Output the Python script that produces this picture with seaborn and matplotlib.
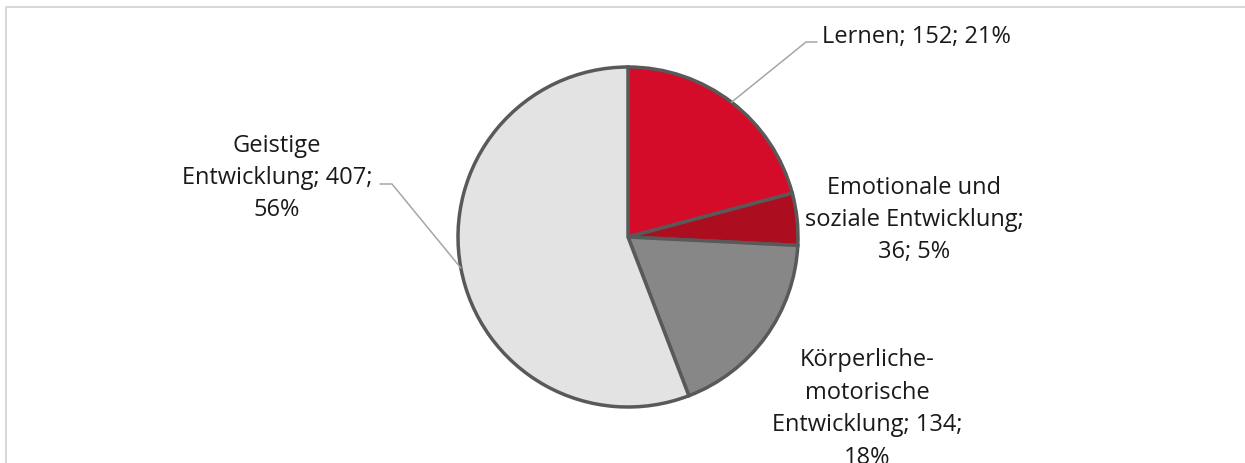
import numpy as np
import matplotlib
matplotlib.use("Agg")
import matplotlib.pyplot as plt
import seaborn as sns

categories = ["Lernen", "Emotionale und soziale Entwicklung",
              "Körperliche-motorische Entwicklung", "Geistige Entwicklung"]
values = [152, 36, 134, 407]
percents = [21, 5, 18, 56]
label_texts = ["Lernen; 152; 21%",
               "Emotionale und\nsoziale Entwicklung;\n36; 5%",
               "Körperliche-\nmotorische\nEntwicklung; 134;\n18%",
               "Geistige\nEntwicklung; 407;\n56%"]
colors = ["#D40C29", "#AC0E20", "#878787", "#E3E3E3"]

sns.set_theme(style="white")
plt.rcParams['font.family'] = ['Open Sans', 'DejaVu Sans']

W, H = 1245, 464
fig = plt.figure(figsize=(W / 100, H / 100), dpi=100)
ax = fig.add_axes([0, 0, 1, 1])
ax.set_xlim(0, W)
ax.set_ylim(0, H)
ax.set_aspect('equal')
ax.axis('off')

# outer frame
ax.plot([6, 6, 1260], [-20, H - 8, H - 8], color="#D9D9D9", lw=1.5, solid_capstyle='butt')

cx, cy, r = 628, H - 238, 170
wedges, _ = ax.pie(values, colors=colors, startangle=90, counterclock=False,
                   center=(cx, cy), radius=r, frame=True,
                   wedgeprops=dict(edgecolor="#595959", linewidth=2.5))
ax.set_xlim(0, W)
ax.set_ylim(0, H)
ax.axis('off')

fs = 17
ls = 1.47
# label positions (pixel coords, y from top)
label_pos = [(822, 37, 'left'), (914, 220, 'center'), (867, 409, 'center'), (277, 178, 'center')]
elbows = [((806, 43), (817, 43)), None, None, ((392, 185), (380, 185))]

total = sum(values)
start = 90.0
for i, v in enumerate(values):
    span = v / total * 360
    mid = np.deg2rad(start - span / 2)
    start -= span
    x, y, ha = label_pos[i]
    ax.text(x, H - y, label_texts[i], ha=ha, va='center', fontsize=fs,
            linespacing=ls, color="#1A1A1A", multialignment='center')
    if elbows[i] is not None:
        px, py = cx + r * np.cos(mid), cy + r * np.sin(mid)
        (ex, ey), (tx, ty) = elbows[i]
        ax.plot([px, ex, tx], [py, H - ey, H - ty], color="#A6A6A6", lw=1.1)

fig.savefig("out.png", dpi=100)
